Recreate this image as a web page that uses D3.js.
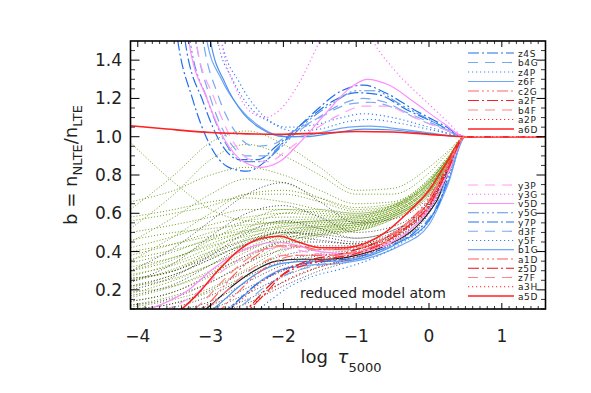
<!DOCTYPE html>
<html>
<head>
<meta charset="utf-8">
<script src="https://cdn.jsdelivr.net/npm/d3@7"></script>
<style>
  body { margin: 0; background: #fff; }
  text { font-family: "DejaVu Sans", sans-serif; fill: #222; }
</style>
</head>
<body>
<div id="chart"></div>
<script>
// optical depth grid used by the green / black level curves
const tauGrid = [-4.1, -3.5, -3.0, -2.5, -2.0, -1.5, -1.0, -0.5, 0.0, 0.25, 0.5, 1.6];

// green dotted levels (b values on tauGrid)
const greenLevels = [
  [0.97,0.76,0.62,0.56,0.55,0.56,0.58,0.64,0.76,0.88,1.00,1.00],
  [0.62,0.80,0.97,1.03,0.96,0.84,0.72,0.73,0.84,0.92,1.00,1.00],
  [0.52,0.70,0.88,0.96,0.90,0.80,0.70,0.70,0.81,0.91,1.00,1.00],
  [0.66,0.72,0.80,0.84,0.80,0.72,0.65,0.66,0.78,0.89,1.00,1.00],
  [0.45,0.58,0.70,0.78,0.76,0.68,0.62,0.64,0.77,0.88,1.00,1.00],
  [0.58,0.62,0.66,0.68,0.66,0.62,0.60,0.64,0.77,0.88,1.00,1.00],
  [0.50,0.54,0.58,0.62,0.62,0.60,0.59,0.63,0.76,0.88,1.00,1.00],
  [0.42,0.48,0.54,0.58,0.60,0.59,0.58,0.63,0.76,0.88,1.00,1.00],
  [0.38,0.44,0.50,0.56,0.58,0.58,0.58,0.62,0.75,0.87,1.00,1.00],
  [0.34,0.40,0.47,0.53,0.56,0.57,0.57,0.62,0.75,0.87,1.00,1.00],
  [0.30,0.37,0.44,0.51,0.55,0.56,0.57,0.62,0.75,0.87,1.00,1.00],
  [0.27,0.34,0.42,0.49,0.54,0.56,0.56,0.61,0.74,0.87,1.00,1.00],
  [0.24,0.31,0.39,0.47,0.53,0.55,0.56,0.61,0.74,0.87,1.00,1.00],
  [0.21,0.28,0.36,0.45,0.51,0.54,0.55,0.60,0.74,0.87,1.00,1.00],
  [0.18,0.25,0.33,0.42,0.49,0.53,0.55,0.60,0.73,0.86,1.00,1.00],
  [0.16,0.22,0.30,0.40,0.48,0.52,0.54,0.60,0.73,0.86,1.00,1.00],
  [0.14,0.19,0.27,0.37,0.46,0.51,0.53,0.59,0.72,0.86,1.00,1.00],
  [0.12,0.17,0.24,0.34,0.44,0.50,0.53,0.59,0.72,0.86,1.00,1.00],
  [0.11,0.15,0.21,0.31,0.42,0.49,0.52,0.58,0.71,0.85,1.00,1.00],
  [0.10,0.13,0.19,0.28,0.40,0.48,0.51,0.58,0.71,0.85,1.00,1.00],
  [0.46,0.50,0.52,0.54,0.55,0.55,0.56,0.61,0.74,0.87,1.00,1.00],
  [0.40,0.44,0.48,0.51,0.53,0.54,0.55,0.60,0.73,0.86,1.00,1.00],
  [0.36,0.41,0.46,0.50,0.52,0.53,0.54,0.59,0.72,0.86,1.00,1.00],
  [0.32,0.37,0.43,0.48,0.51,0.53,0.54,0.59,0.72,0.86,1.00,1.00],
  [0.28,0.33,0.40,0.46,0.50,0.52,0.53,0.58,0.71,0.85,1.00,1.00],
  [0.25,0.30,0.37,0.44,0.49,0.51,0.52,0.58,0.71,0.85,1.00,1.00],
  [0.22,0.26,0.33,0.41,0.47,0.50,0.51,0.57,0.70,0.85,1.00,1.00],
  [0.19,0.22,0.29,0.38,0.45,0.49,0.51,0.57,0.70,0.84,1.00,1.00],
  [0.56,0.60,0.64,0.70,0.72,0.68,0.63,0.65,0.78,0.89,1.00,1.00],
  [0.35,0.48,0.60,0.70,0.70,0.66,0.61,0.64,0.77,0.88,1.00,1.00],
  [0.30,0.36,0.46,0.56,0.62,0.62,0.60,0.63,0.76,0.88,1.00,1.00],
  [0.26,0.30,0.40,0.52,0.60,0.61,0.59,0.63,0.76,0.88,1.00,1.00]
];

// black dotted levels
const blackLevels = [
  [0.30,0.42,0.56,0.70,0.76,0.66,0.55,0.57,0.69,0.84,1.00,1.00],
  [0.24,0.34,0.48,0.60,0.64,0.58,0.50,0.53,0.67,0.83,1.00,1.00],
  [0.20,0.27,0.38,0.50,0.56,0.52,0.47,0.51,0.66,0.83,1.00,1.00],
  [0.17,0.23,0.33,0.44,0.50,0.48,0.45,0.50,0.65,0.82,1.00,1.00],
  [0.14,0.19,0.28,0.38,0.45,0.45,0.44,0.49,0.64,0.82,1.00,1.00],
  [0.12,0.16,0.24,0.34,0.41,0.43,0.43,0.49,0.64,0.82,1.00,1.00],
  [0.10,0.13,0.20,0.30,0.38,0.41,0.42,0.48,0.63,0.81,1.00,1.00],
  [0.08,0.11,0.17,0.27,0.35,0.39,0.41,0.48,0.63,0.81,1.00,1.00],
  [0.06,0.09,0.14,0.24,0.33,0.38,0.40,0.47,0.62,0.81,1.00,1.00],
  [0.05,0.08,0.12,0.21,0.30,0.36,0.39,0.46,0.62,0.80,1.00,1.00],
  [0.04,0.06,0.10,0.18,0.27,0.34,0.38,0.45,0.61,0.80,1.00,1.00],
  [0.03,0.05,0.08,0.15,0.24,0.32,0.37,0.45,0.61,0.80,1.00,1.00],
  [0.02,0.04,0.07,0.13,0.22,0.30,0.36,0.44,0.60,0.79,1.00,1.00],
  [0.26,0.30,0.38,0.46,0.50,0.49,0.47,0.51,0.66,0.83,1.00,1.00],
  [0.22,0.28,0.36,0.44,0.48,0.46,0.44,0.49,0.64,0.82,1.00,1.00]
];

// labelled levels, [log tau, b]
const z4S = [[-3.6,2.0],[-3.45,1.5],[-3.25,1.2],[-3.0,0.95],[-2.75,0.84],[-2.5,0.82],[-2.25,0.87],[-2.0,0.97],[-1.6,1.12],[-1.2,1.24],[-0.9,1.27],[-0.6,1.23],[-0.2,1.14],[0.2,1.06],[0.5,1.0],[1.6,1.0]];
const y7P = [[-3.5,2.0],[-3.35,1.5],[-3.1,1.18],[-2.85,0.96],[-2.6,0.88],[-2.35,0.88],[-2.1,0.95],[-1.7,1.08],[-1.3,1.19],[-1.0,1.23],[-0.7,1.22],[-0.3,1.14],[0.1,1.07],[0.5,1.0],[1.6,1.0]];
const y5G = [[-3.4,2.0],[-3.28,1.5],[-3.05,1.2],[-2.8,0.97],[-2.55,0.87],[-2.3,0.87],[-2.05,0.94],[-1.7,1.07],[-1.3,1.18],[-1.0,1.24],[-0.75,1.24],[-0.4,1.17],[0.0,1.09],[0.5,1.0],[1.6,1.0]];
const b4G = [[-3.35,2.0],[-3.2,1.5],[-3.0,1.2],[-2.75,0.98],[-2.5,0.9],[-2.25,0.9],[-2.0,0.97],[-1.6,1.08],[-1.2,1.17],[-0.9,1.2],[-0.6,1.18],[-0.2,1.1],[0.2,1.04],[0.5,1.0],[1.6,1.0]];
const d3F = [[-3.25,2.0],[-3.1,1.5],[-2.9,1.22],[-2.65,1.02],[-2.4,0.95],[-2.15,0.96],[-1.9,1.02],[-1.5,1.1],[-1.1,1.17],[-0.8,1.18],[-0.4,1.14],[0.1,1.06],[0.5,1.0],[1.6,1.0]];
const z4P = [[-3.05,2.0],[-2.9,1.5],[-2.7,1.3],[-2.45,1.15],[-2.2,1.08],[-1.95,1.05],[-1.6,1.06],[-1.2,1.1],[-0.9,1.12],[-0.5,1.1],[0.0,1.05],[0.5,1.0],[1.6,1.0]];
const y5F = [[-3.0,2.0],[-2.85,1.5],[-2.6,1.28],[-2.35,1.14],[-2.1,1.06],[-1.85,1.03],[-1.5,1.04],[-1.1,1.08],[-0.8,1.09],[-0.4,1.07],[0.1,1.03],[0.5,1.0],[1.6,1.0]];
const z6F = [[-3.15,2.0],[-3.05,1.5],[-2.85,1.3],[-2.6,1.15],[-2.35,1.06],[-2.1,1.01],[-1.85,1.0],[-1.5,1.02],[-1.1,1.05],[-0.8,1.055],[-0.4,1.04],[0.0,1.02],[0.5,1.0],[1.6,1.0]];
const b1G = [[-3.1,2.0],[-3.0,1.5],[-2.8,1.28],[-2.55,1.12],[-2.3,1.04],[-2.0,1.0],[-1.7,1.0],[-1.3,1.02],[-0.9,1.04],[-0.5,1.035],[0.0,1.015],[0.5,1.0],[1.6,1.0]];
const v5D = [[-3.45,2.0],[-3.3,1.5],[-3.05,1.2],[-2.8,0.98],[-2.55,0.87],[-2.3,0.84],[-2.05,0.87],[-1.75,0.98],[-1.4,1.13],[-1.1,1.25],[-0.85,1.3],[-0.55,1.27],[-0.2,1.18],[0.2,1.07],[0.5,1.0],[1.6,1.0]];
const y3P = [[-3.35,2.0],[-3.2,1.5],[-2.95,1.2],[-2.7,0.98],[-2.45,0.88],[-2.2,0.87],[-1.95,0.93],[-1.6,1.03],[-1.25,1.11],[-0.9,1.16],[-0.6,1.16],[-0.2,1.1],[0.2,1.04],[0.5,1.0],[1.6,1.0]];
const y3G = [[-3.0,2.0],[-2.85,1.5],[-2.65,1.25],[-2.45,1.13],[-2.25,1.1],[-2.05,1.14],[-1.8,1.27],[-1.5,1.5],[-1.2,1.72],[-1.0,1.7],[-0.77,1.5],[-0.5,1.36],[0.0,1.17],[0.25,1.08],[0.5,1.0],[1.6,1.0]];
const a6D = [[-4.1,1.057],[-3.6,1.04],[-3.0,1.022],[-2.5,1.015],[-2.0,1.013],[-1.5,1.018],[-1.0,1.027],[-0.5,1.025],[0.0,1.012],[0.5,1.0],[1.6,1.0]];
const a5D = [[-4.1,0.0],[-3.5,0.07],[-3.2,0.17],[-2.9,0.3],[-2.6,0.41],[-2.3,0.47],[-2.05,0.48],[-1.8,0.45],[-1.5,0.42],[-1.2,0.42],[-0.9,0.44],[-0.6,0.5],[-0.3,0.6],[0.0,0.72],[0.25,0.87],[0.5,1.0],[1.6,1.0]];
const a1D = [[-4.1,0.0],[-3.3,0.05],[-3.0,0.14],[-2.7,0.27],[-2.4,0.37],[-2.1,0.43],[-1.8,0.43],[-1.5,0.41],[-1.1,0.41],[-0.7,0.45],[-0.3,0.55],[0.0,0.68],[0.25,0.85],[0.5,1.0],[1.6,1.0]];
const z5D = [[-4.1,-0.1],[-2.8,0.03],[-2.5,0.1],[-2.2,0.22],[-1.9,0.31],[-1.6,0.36],[-1.3,0.38],[-1.0,0.41],[-0.6,0.47],[-0.3,0.55],[0.0,0.66],[0.25,0.84],[0.5,1.0],[1.6,1.0]];
const z7F = [[-4.1,0.0],[-3.2,0.06],[-2.9,0.15],[-2.6,0.26],[-2.3,0.34],[-2.0,0.38],[-1.7,0.38],[-1.4,0.38],[-1.0,0.4],[-0.6,0.45],[-0.3,0.53],[0.0,0.64],[0.25,0.82],[0.5,1.0],[1.6,1.0]];
const a3H = [[-4.1,-0.1],[-2.7,0.04],[-2.4,0.13],[-2.1,0.22],[-1.8,0.28],[-1.5,0.32],[-1.1,0.36],[-0.7,0.42],[-0.3,0.52],[0.0,0.63],[0.25,0.82],[0.5,1.0],[1.6,1.0]];
const c2G = [[-4.1,0.0],[-3.0,0.06],[-2.7,0.16],[-2.4,0.27],[-2.1,0.35],[-1.8,0.38],[-1.5,0.38],[-1.1,0.39],[-0.7,0.44],[-0.3,0.54],[0.0,0.66],[0.25,0.84],[0.5,1.0],[1.6,1.0]];
const a2F = [[-4.1,-0.1],[-2.6,0.06],[-2.3,0.16],[-2.0,0.28],[-1.7,0.33],[-1.4,0.36],[-1.0,0.39],[-0.6,0.45],[-0.3,0.53],[0.0,0.64],[0.25,0.82],[0.5,1.0],[1.6,1.0]];
const b4F = [[-4.1,0.0],[-3.4,0.05],[-3.1,0.14],[-2.8,0.26],[-2.5,0.36],[-2.2,0.42],[-1.9,0.43],[-1.6,0.41],[-1.2,0.41],[-0.8,0.44],[-0.4,0.52],[0.0,0.67],[0.25,0.85],[0.5,1.0],[1.6,1.0]];
const a2P = [[-4.1,-0.1],[-2.9,0.05],[-2.6,0.14],[-2.3,0.24],[-2.0,0.31],[-1.7,0.34],[-1.3,0.36],[-0.9,0.4],[-0.5,0.47],[-0.2,0.56],[0.1,0.72],[0.5,1.0],[1.6,1.0]];

// unlabelled coloured levels inside the lower bundle
const lowerPink = [[-4.1,0.08],[-3.7,0.12],[-3.3,0.2],[-3.0,0.3],[-2.7,0.38],[-2.4,0.43],[-2.1,0.45],[-1.8,0.43],[-1.5,0.4],[-1.1,0.39],[-0.7,0.42],[-0.3,0.5],[0.0,0.62],[0.25,0.8],[0.5,1.0],[1.6,1.0]];
const lowerPinkDash = [[-4.1,0.06],[-3.6,0.1],[-3.2,0.18],[-2.9,0.28],[-2.6,0.36],[-2.3,0.41],[-2.0,0.42],[-1.7,0.4],[-1.3,0.38],[-0.9,0.4],[-0.5,0.45],[-0.1,0.58],[0.25,0.8],[0.5,1.0],[1.6,1.0]];
const lowerBlue = [[-4.1,0.0],[-3.2,0.04],[-2.9,0.12],[-2.6,0.22],[-2.3,0.3],[-2.0,0.34],[-1.6,0.35],[-1.2,0.35],[-0.8,0.38],[-0.4,0.45],[0.0,0.56],[0.25,0.75],[0.5,1.0],[1.6,1.0]];
const lowerBlue2 = [[-4.1,-0.05],[-2.9,0.05],[-2.6,0.15],[-2.3,0.25],[-2.0,0.31],[-1.6,0.33],[-1.2,0.34],[-0.8,0.37],[-0.4,0.43],[0.0,0.54],[0.25,0.74],[0.5,1.0],[1.6,1.0]];
const lowerBlueDashDot = [[-4.1,-0.05],[-3.0,0.04],[-2.7,0.12],[-2.4,0.22],[-2.1,0.29],[-1.8,0.33],[-1.4,0.35],[-1.0,0.37],[-0.6,0.42],[-0.2,0.5],[0.1,0.62],[0.5,1.0],[1.6,1.0]];
const lowerBlueDash = [[-4.1,-0.05],[-2.8,0.05],[-2.5,0.14],[-2.2,0.23],[-1.9,0.29],[-1.5,0.33],[-1.1,0.36],[-0.7,0.4],[-0.3,0.48],[0.05,0.6],[0.5,1.0],[1.6,1.0]];
const lowerBlueDot = [[-4.1,-0.05],[-2.5,0.05],[-2.2,0.14],[-1.9,0.22],[-1.6,0.27],[-1.2,0.31],[-0.8,0.36],[-0.4,0.44],[0.0,0.56],[0.25,0.76],[0.5,1.0],[1.6,1.0]];
const lowerBlack = [[-4.1,0.0],[-3.3,0.04],[-3.0,0.12],[-2.7,0.22],[-2.4,0.3],[-2.1,0.35],[-1.8,0.36],[-1.4,0.36],[-1.0,0.38],[-0.6,0.43],[-0.2,0.52],[0.1,0.66],[0.5,1.0],[1.6,1.0]];

const legendTop = ["z4S","b4G","z4P","z6F","c2G","a2F","b4F","a2P","a6D"];
const legendBottom = ["y3P","y3G","v5D","y5G","y7P","d3F","y5F","b1G","a1D","z5D","z7F","a3H","a5D"];

const levelPoints = { z4S, y7P, y5G, b4G, d3F, z4P, y5F, z6F, b1G, v5D, y3P, y3G, a6D,
  a5D, a1D, z5D, z7F, a3H, c2G, a2F, b4F, a2P };

const extraCurves = [
  { pts: lowerBlack, style: "blackSolid" },
  { pts: lowerBlue, style: "b1G" },
  { pts: lowerBlue2, style: "z6F" },
  { pts: lowerBlueDashDot, style: "z4S" },
  { pts: lowerBlueDash, style: "d3F" },
  { pts: lowerBlueDot, style: "y5F" },
  { pts: lowerPink, style: "v5D" },
  { pts: lowerPinkDash, style: "y3P" }
];

const xMajor = [-4, -3, -2, -1, 0, 1];
const yMajor = [0.2, 0.4, 0.6, 0.8, 1.0, 1.2, 1.4];

// styles
const DASH = {
  solid: null,
  dot: "1.2,2.8",
  dash: "10,7",
  dashdot: "11,3,2,3",
  dash3dot: "11,3,2,3,2,3,2,3"
};
const lineStyle = {
  z4S: ["#1f6ff0", "dashdot"], b4G: ["#78aaf2", "dash"], z4P: ["#3a82f2", "dot"],
  z6F: ["#6fa6f2", "solid"], c2G: ["#ff6464", "dash3dot"], a2F: ["#ff1e1e", "dashdot"],
  b4F: ["#ff8686", "dash"], a2P: ["#ff3030", "dot"], a6D: ["#ff2020", "solid"],
  y3P: ["#ffa0f4", "dash"], y3G: ["#ff6cff", "dot"], v5D: ["#ff8cff", "solid"],
  y5G: ["#5c92e4", "dash3dot"], y7P: ["#2272ea", "dashdot"], d3F: ["#78aaf2", "dash"],
  y5F: ["#3a82f2", "dot"], b1G: ["#4e90f0", "solid"], a1D: ["#ff5a5a", "dash3dot"],
  z5D: ["#e41010", "dashdot"], z7F: ["#ff8686", "dash"], a3H: ["#ff2020", "dot"],
  a5D: ["#ff2020", "solid"], blackSolid: ["#222", "solid"]
};

const width = 591, height = 393;
const svg = d3.select("#chart").append("svg")
  .attr("width", width).attr("height", height);

const x = d3.scaleLinear().domain([-4.1, 1.6]).range([130.5, 545.5]);
const y = d3.scaleLinear().domain([0.1, 1.5]).range([309, 41]);

svg.append("clipPath").attr("id", "plotClip")
  .append("rect")
  .attr("x", x(-4.1)).attr("y", y(1.5))
  .attr("width", x(1.6) - x(-4.1)).attr("height", y(0.1) - y(1.5));

const plot = svg.append("g").attr("clip-path", "url(#plotClip)");
const line = d3.line().x(d => x(d[0])).y(d => y(d[1])).curve(d3.curveMonotoneX);

// green and black dotted levels
plot.selectAll(".green").data(greenLevels).enter().append("path")
  .attr("class", "green")
  .attr("d", d => line(d.map((b, i) => [tauGrid[i], b])))
  .attr("fill", "none").attr("stroke", "#6e9e1c")
  .attr("stroke-width", 1).attr("stroke-dasharray", "1,2");

plot.selectAll(".black").data(blackLevels).enter().append("path")
  .attr("class", "black")
  .attr("d", d => line(d.map((b, i) => [tauGrid[i], b])))
  .attr("fill", "none").attr("stroke", "#333")
  .attr("stroke-width", 0.9).attr("stroke-dasharray", "1,2");

function styled(sel, key) {
  const s = lineStyle[key];
  sel.attr("fill", "none").attr("stroke", s[0])
    .attr("stroke-width", key === "a6D" || key === "a5D" ? 1.6 : 1.2)
    .attr("stroke-dasharray", DASH[s[1]]);
}

extraCurves.forEach(c => {
  plot.append("path").attr("d", line(c.pts)).call(styled, c.style);
});

Object.keys(levelPoints).forEach(k => {
  plot.append("path").attr("d", line(levelPoints[k])).call(styled, k);
});

// frame and ticks (inward, on all four sides)
const axisG = svg.append("g").attr("stroke", "#000");
function tickLines(vals, isX, len, w) {
  vals.forEach(v => {
    if (isX) {
      const px = x(v);
      axisG.append("line").attr("x1", px).attr("x2", px).attr("y1", y(0.1)).attr("y2", y(0.1) - len).attr("stroke-width", w);
      axisG.append("line").attr("x1", px).attr("x2", px).attr("y1", y(1.5)).attr("y2", y(1.5) + len).attr("stroke-width", w);
    } else {
      const py = y(v);
      axisG.append("line").attr("x1", x(-4.1)).attr("x2", x(-4.1) + len).attr("y1", py).attr("y2", py).attr("stroke-width", w);
      axisG.append("line").attr("x1", x(1.6)).attr("x2", x(1.6) - len).attr("y1", py).attr("y2", py).attr("stroke-width", w);
    }
  });
}
const xMinor = d3.range(-41, 16).map(i => i / 10).filter(v => !xMajor.includes(Math.round(v * 10) / 10));
const yMinor = d3.range(2, 30).map(i => i / 20).filter(v => !yMajor.some(m => Math.abs(m - v) < 1e-6));
tickLines(xMinor, true, 3, 0.8);
tickLines(xMajor, true, 6, 1);
tickLines(yMinor, false, 4.5, 0.8);
tickLines(yMajor, false, 9, 1);

svg.append("rect")
  .attr("x", x(-4.1)).attr("y", y(1.5))
  .attr("width", x(1.6) - x(-4.1)).attr("height", y(0.1) - y(1.5))
  .attr("fill", "none").attr("stroke", "#000").attr("stroke-width", 1.6);

// tick labels
svg.selectAll(".xlab").data(xMajor).enter().append("text")
  .attr("x", d => x(d)).attr("y", 342)
  .attr("text-anchor", "middle").attr("font-size", 17)
  .text(d => d < 0 ? "\u2212" + Math.abs(d) : d);

svg.selectAll(".ylab").data(yMajor).enter().append("text")
  .attr("x", 122).attr("y", d => y(d) + 6)
  .attr("text-anchor", "end").attr("font-size", 17)
  .text(d => d.toFixed(1));

// axis titles
const xt = svg.append("text").attr("x", 341).attr("y", 363)
  .attr("text-anchor", "middle").attr("font-size", 18);
xt.append("tspan").text("log ");
xt.append("tspan").attr("dx", 4).attr("font-style", "italic").text("\u03C4");
xt.append("tspan").attr("font-size", 13).attr("dy", 9).text("5000");

const yt = svg.append("text")
  .attr("transform", "translate(77,165) rotate(-90)")
  .attr("text-anchor", "middle").attr("font-size", 18);
yt.append("tspan").text("b = n");
yt.append("tspan").attr("font-size", 13).attr("dy", 5).text("NLTE");
yt.append("tspan").attr("dy", -5).text("/n");
yt.append("tspan").attr("font-size", 13).attr("dy", 5).text("LTE");

// legends
function legend(names, top, step) {
  names.forEach((n, i) => {
    const ly = top + i * step;
    svg.append("line").attr("x1", 468).attr("x2", 514).attr("y1", ly).attr("y2", ly)
      .call(styled, n);
    svg.append("text").attr("x", 518).attr("y", ly + 3.5)
      .attr("font-size", 9).attr("letter-spacing", 0.6).text(n);
  });
}
legend(legendTop, 53, 9.5);
legend(legendBottom, 185, 9.25);

svg.append("text").attr("x", 300).attr("y", 298)
  .attr("font-size", 14).text("reduced model atom");
</script>
</body>
</html>
